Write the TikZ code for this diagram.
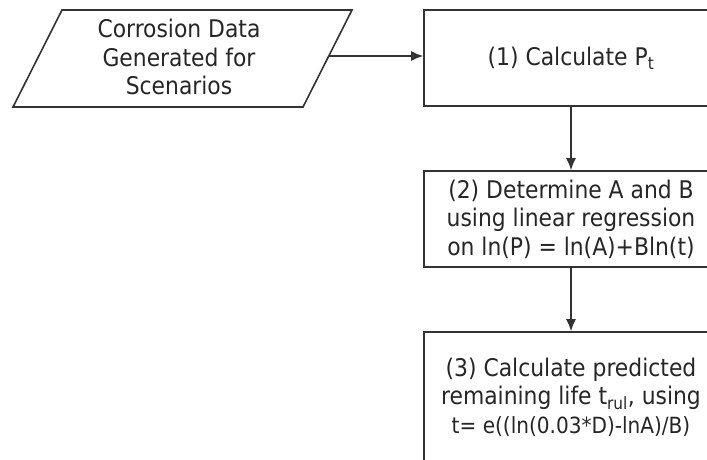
\documentclass[tikz,border=0pt]{standalone}
\usepackage{fontspec}
\setmainfont{DejaVu Sans Condensed}
\usetikzlibrary{arrows.meta}
\definecolor{ln}{HTML}{333333}
\definecolor{tx}{HTML}{262626}
\tikzset{
  procbox/.style={draw=ln, line width=1.6pt, fill=white, minimum width=294pt, inner sep=0pt, align=center, text=tx, font=\fontsize{24.3}{28.5}\selectfont},
  flow/.style={draw=ln, line width=1.4pt, -{Latex[length=12pt,width=10pt]}},
  lbl/.style={align=center, text=tx, font=\fontsize{24.3}{28.5}\selectfont}
}
\begin{document}
\begin{tikzpicture}[x=1pt,y=-1pt]
\useasboundingbox (0,0) rectangle (707,459);
\clip (0,0) rectangle (707,459);
% parallelogram input
\draw[draw=ln, line width=1.6pt, fill=white] (62,10) -- (352,10) -- (303,107) -- (13,107) -- cycle;
\node[lbl] (inp) at (179,57) {Corrosion Data\\Generated for\\Scenarios};
\coordinate (inpR) at (329,56);
% process boxes
\node[procbox, minimum height=96pt] (b1) at (571,58) {(1) Calculate P\textsubscript{t}};
\node[procbox, minimum height=96pt] (b2) at (571,219) {(2) Determine A and B\\using linear regression\\on ln(P) = ln(A)+Bln(t)};
\node[procbox, minimum height=130pt] (b3) at (571,397) {(3) Calculate predicted\\remaining life t\textsubscript{rul}, using\\{\fontsize{22.3}{28.5}\selectfont t= e((ln(0.03*D)-lnA)/B)}};
% connectors
\draw[flow] (inpR) -- (inpR -| b1.west);
\draw[flow] (b1.south) -- (b2.north);
\draw[flow] (b2.south) -- (b3.north);
\end{tikzpicture}
\end{document}
